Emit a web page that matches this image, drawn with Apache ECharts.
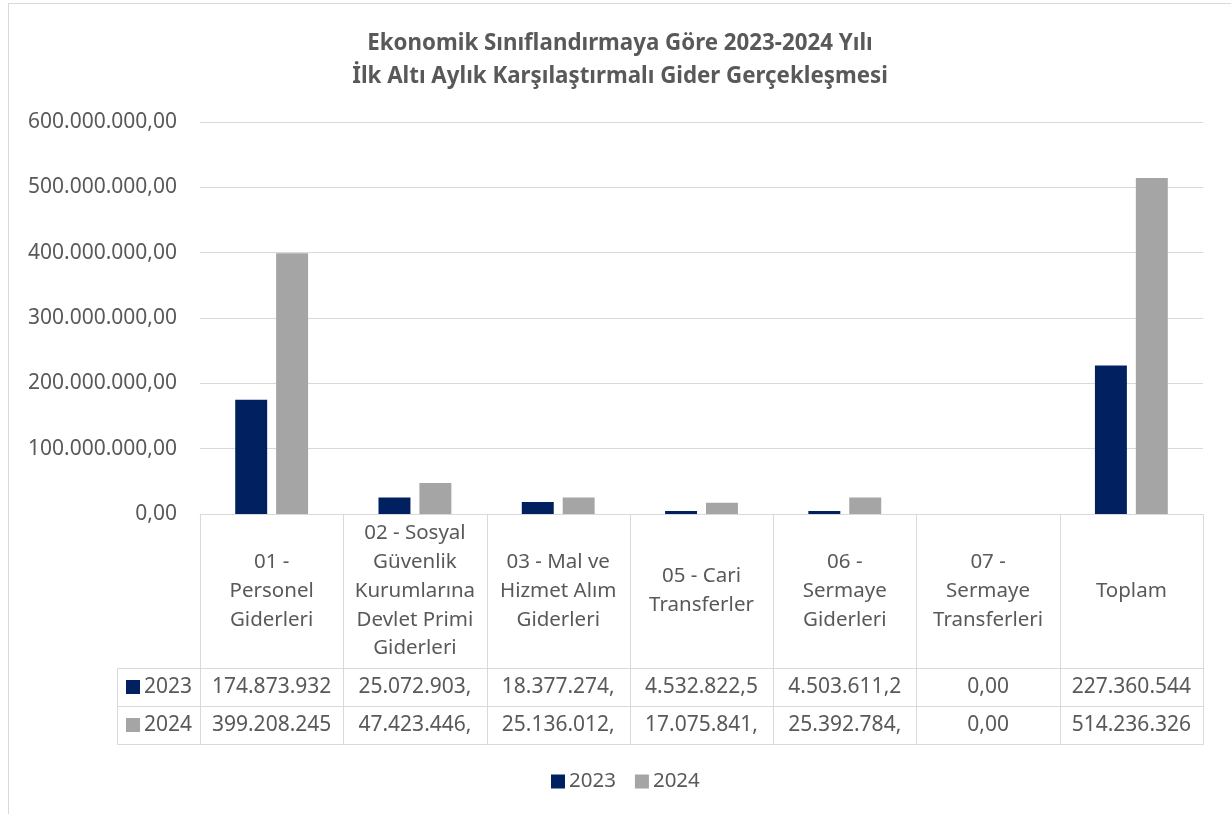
<!DOCTYPE html>
<html><head><meta charset="utf-8">
<script src="https://cdn.jsdelivr.net/npm/echarts@6/dist/echarts.min.js"></script>
<style>html,body{margin:0;padding:0;background:#fff}#c{width:1231px;height:814px}</style>
</head><body><div id="c"></div>
<script>
const titleLines = ['Ekonomik Sınıflandırmaya Göre 2023-2024 Yılı', 'İlk Altı Aylık Karşılaştırmalı Gider Gerçekleşmesi'];
const categories = ['01 -\nPersonel\nGiderleri', '02 - Sosyal\nGüvenlik\nKurumlarına\nDevlet Primi\nGiderleri', '03 - Mal ve\nHizmet Alım\nGiderleri', '05 - Cari\nTransferler', '06 -\nSermaye\nGiderleri', '07 -\nSermaye\nTransferleri', 'Toplam'];
const seriesNames = ['2023', '2024'];
const values2023 = [174873932, 25072903, 18377274, 4532822.5, 4503611.2, 0, 227360544];
const values2024 = [399208245, 47423446, 25136012, 17075841, 25392784, 0, 514236326];
const yMin = 0, yMax = 600000000, yInterval = 100000000;
const colors = ['#002060', '#A5A5A5'];

const FONT = '"Noto Sans", sans-serif';
const TXT = '#595959';
const LINE = '#D9D9D9';

function fmtTR(v) {
  const f = Math.abs(v).toFixed(2).split('.');
  return f[0].replace(/\B(?=(\d{3})+(?!\d))/g, '.') + ',' + f[1];
}
function cellText(v) { return fmtTR(v).slice(0, 11); }

const chart = echarts.init(document.getElementById('c'), null, { renderer: 'canvas' });
chart.setOption({
  animation: false,
  color: colors,
  grid: { left: 200, right: 28, top: 122, bottom: 300, containLabel: false },
  legend: {
    data: seriesNames, left: 546, top: 766, itemWidth: 14, itemHeight: 14, itemGap: 19,
    icon: 'rect', textStyle: { color: TXT, fontSize: 20.5, fontFamily: FONT, padding: [0, 0, 0, -1] }
  },
  xAxis: {
    type: 'category', data: categories,
    axisLine: { lineStyle: { color: LINE, width: 1 } },
    axisTick: { show: false },
    axisLabel: { interval: 0, color: TXT, fontSize: 20.5, fontFamily: FONT, lineHeight: 28.7, verticalAlign: 'middle', margin: 77, align: 'center' }
  },
  yAxis: {
    type: 'value', min: yMin, max: yMax, interval: yInterval,
    axisLine: { show: false }, axisTick: { show: false },
    splitLine: { lineStyle: { color: LINE, width: 1 } },
    axisLabel: { color: TXT, fontSize: 21, fontFamily: FONT, margin: 23, formatter: v => fmtTR(v) }
  },
  series: [
    { name: seriesNames[0], type: 'bar', data: values2023, barWidth: '22.3%', barGap: '28%' },
    { name: seriesNames[1], type: 'bar', data: values2024, barWidth: '22.3%', barGap: '28%' }
  ]
});

function buildGraphics() {
  const p0 = chart.convertToPixel({ xAxisIndex: 0 }, 0);
  const p1 = chart.convertToPixel({ xAxisIndex: 0 }, 1);
  const band = p1 - p0;
  const left = p0 - band / 2;
  const n = categories.length;
  const right = left + band * n;
  const yTop = chart.convertToPixel({ yAxisIndex: 0 }, 0);
  const headerH = 154, rowH = 38, keyW = 83;
  const r1 = yTop + headerH, r2 = r1 + rowH, yBot = r2 + rowH;
  const c = v => Math.round(v) + 0.5;
  const g = [];
  const line = (x1, y1, x2, y2) => g.push({ type: 'line', silent: true, shape: { x1: c(x1), y1: c(y1), x2: c(x2), y2: c(y2) }, style: { stroke: LINE, lineWidth: 1 } });
  // chart area border
  line(8, 3, 8, 814);
  line(8, 3, 1231, 3);
  // table grid
  for (let i = 0; i <= n; i++) line(left + i * band, yTop, left + i * band, yBot);
  line(left - keyW, r1, right, r1);
  line(left - keyW, r2, right, r2);
  line(left - keyW, yBot, right, yBot);
  line(left - keyW, r1, left - keyW, yBot);
  // row values
  const rows = [values2023, values2024];
  rows.forEach((vals, ri) => {
    const cy = r1 + rowH * ri + rowH / 2;
    vals.forEach((v, i) => {
      g.push({ type: 'text', silent: true, x: left + (i + 0.5) * band, y: cy,
        style: { text: cellText(v), fill: TXT, font: '21px ' + FONT, textAlign: 'center', textVerticalAlign: 'middle' } });
    });
    g.push({ type: 'rect', silent: true, shape: { x: left - keyW + 9, y: Math.round(cy - 7), width: 14, height: 14 }, style: { fill: colors[ri] } });
    g.push({ type: 'text', silent: true, x: left - keyW + 27, y: cy,
      style: { text: seriesNames[ri], fill: TXT, font: '21px ' + FONT, textAlign: 'left', textVerticalAlign: 'middle' } });
  });
  // title
  titleLines.forEach((t, i) => {
    g.push({ type: 'text', silent: true, x: 620, y: 44 + i * 33,
      style: { text: t, fill: TXT, font: 'bold 22.3px ' + FONT, textAlign: 'center', textVerticalAlign: 'middle' } });
  });
  chart.setOption({ graphic: g });
}
buildGraphics();
</script>
</body></html>
